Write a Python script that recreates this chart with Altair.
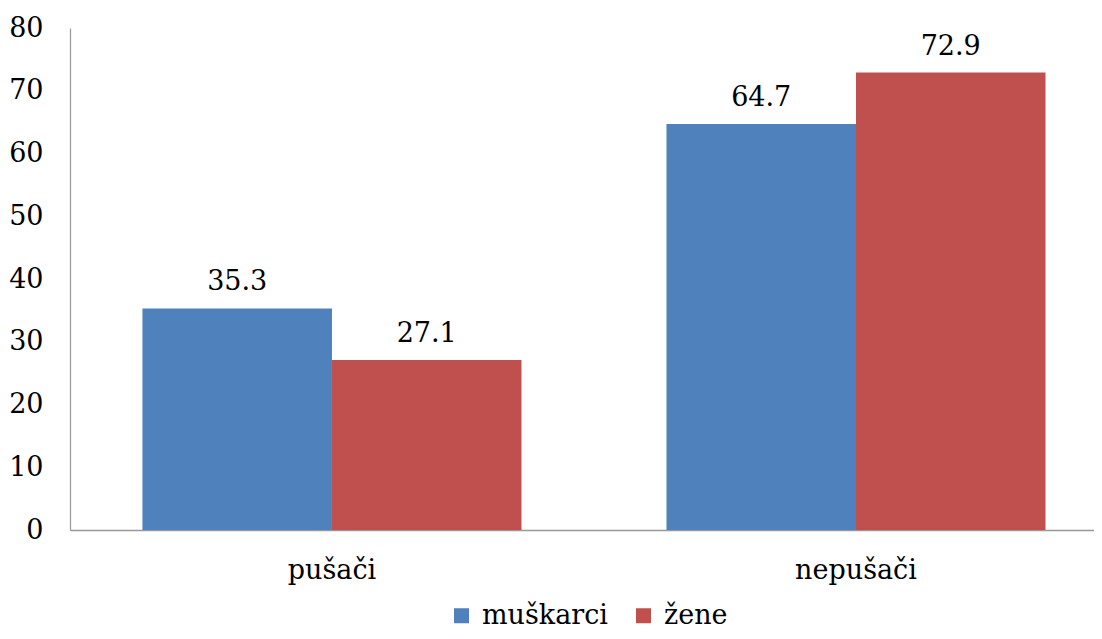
import altair as alt
import pandas as pd

categories = ["pušači", "nepušači"]
series = ["muškarci", "žene"]
muskarci = [35.3, 64.7]
zene = [27.1, 72.9]
colors = ["#4F81BD", "#C0504D"]

rows = []
for i, c in enumerate(categories):
    rows.append({"kategorija": c, "spol": series[0], "vrijednost": muskarci[i]})
    rows.append({"kategorija": c, "spol": series[1], "vrijednost": zene[i]})
df = pd.DataFrame(rows)

FONT = "DejaVu Serif"
FS = 27

x_enc = alt.X(
    "kategorija:N",
    sort=categories,
    title=None,
    scale=alt.Scale(paddingInner=0.2767, paddingOuter=0.1154, align=0.599),
    axis=alt.Axis(
        labelAngle=0,
        ticks=False,
        tickSize=0,
        labelPadding=48,
        labelBaseline="alphabetic",
        labelFont=FONT,
        labelFontSize=FS,
        labelColor="#000000",
        domainColor="#999999",
        domainWidth=1.5,
        grid=False,
    ),
)
xoff = alt.XOffset("spol:N", sort=series, scale=alt.Scale(paddingInner=0, paddingOuter=0))

base = alt.Chart(df)

bars = base.mark_bar().encode(
    x=x_enc,
    xOffset=xoff,
    y=alt.Y(
        "vrijednost:Q",
        title=None,
        scale=alt.Scale(domain=[0, 80], nice=False),
        axis=alt.Axis(
            values=[0, 10, 20, 30, 40, 50, 60, 70, 80],
            ticks=False,
            tickSize=0,
            grid=False,
            labelPadding=27,
            labelFont=FONT,
            labelFontSize=FS,
            labelColor="#000000",
            domainColor="#999999",
            domainWidth=1.2,
        ),
    ),
    color=alt.Color(
        "spol:N",
        sort=series,
        scale=alt.Scale(domain=series, range=colors),
        legend=alt.Legend(
            title=None,
            orient="none",
            direction="horizontal",
            legendX=378,
            legendY=574,
            symbolType="square",
            symbolSize=225,
            symbolStrokeWidth=0,
            symbolOpacity=1,
            labelFont=FONT,
            labelFontSize=FS,
            labelColor="#000000",
            labelOffset=7,
            columnPadding=22,
            padding=0,
        ),
    ),
)

labels = base.mark_text(
    font=FONT, fontSize=FS, color="#000000", baseline="alphabetic", align="center", dy=-18
).encode(
    x=alt.X("kategorija:N", sort=categories),
    xOffset=xoff,
    y=alt.Y("vrijednost:Q"),
    text=alt.Text("vrijednost:Q", format=".1f"),
)

chart = (
    alt.layer(bars, labels)
    .properties(
        width=1024,
        height=502,
        autosize=alt.AutoSizeParams(type="none"),
        padding={"left": 62, "top": 20, "right": 0, "bottom": 101},
        background="#ffffff",
    )
    .configure_view(stroke=None)
)

chart.save("out.html", embed_options={"renderer": "svg", "actions": False})
